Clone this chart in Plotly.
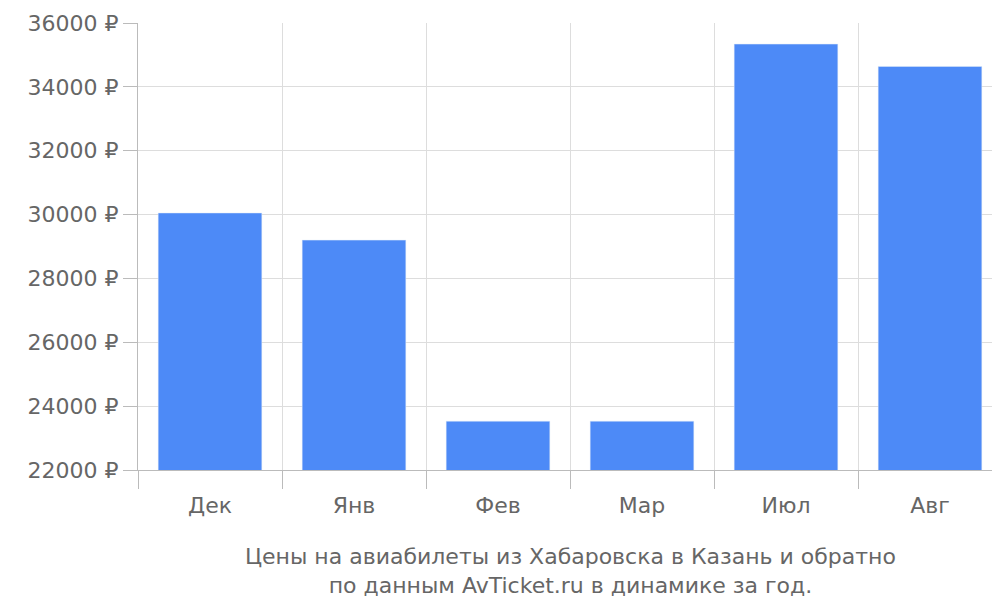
import plotly.graph_objects as go

months = ["Дек", "Янв", "Фев", "Мар", "Июл", "Авг"]
prices = [30050, 29200, 23530, 23530, 35340, 34640]
y_ticks = [22000, 24000, 26000, 28000, 30000, 32000, 34000, 36000]

pos = list(range(len(months)))
bounds = [p - 0.5 for p in pos] + [pos[-1] + 0.5]

fig = go.Figure()
fig.add_trace(go.Bar(x=pos, y=prices, marker_color="#4d8af7", width=0.72,
                     hoverinfo="y"))
# invisible trace to carry the boundary axis
fig.add_trace(go.Scatter(x=bounds, y=[None] * len(bounds), xaxis="x2",
                         mode="markers", showlegend=False, hoverinfo="skip"))

font = dict(family="DejaVu Sans", size=22, color="#666666")
fig.update_layout(
    width=1000, height=600, margin=dict(l=130, r=6, t=15, b=138),
    plot_bgcolor="white", paper_bgcolor="white", showlegend=False,
    font=font,
    xaxis=dict(range=[-0.5, 5.5], tickvals=pos, ticktext=months,
               showgrid=False, ticks="outside", ticklen=16,
               tickcolor="rgba(0,0,0,0)", tickfont=font, zeroline=False,
               automargin=False),
    xaxis2=dict(range=[-0.5, 5.5], overlaying="x", side="bottom",
                tickvals=bounds, ticktext=[""] * len(bounds), showgrid=True,
                gridcolor="#dddddd", ticks="outside", ticklen=18,
                tickcolor="#bbbbbb", showline=True, linecolor="#bbbbbb",
                zeroline=False, automargin=False),
    yaxis=dict(range=[22000, 36000], tickvals=y_ticks,
               ticktext=[f"{v} ₽" for v in y_ticks], showgrid=True,
               gridcolor="#dddddd", ticks="outside", ticklen=14,
               tickcolor="#bbbbbb", showline=True, linecolor="#bbbbbb",
               zeroline=False, tickfont=font, automargin=False),
    annotations=[dict(text="Цены на авиабилеты из Хабаровска в Казань и обратно<br>по данным AvTicket.ru в динамике за год.",
                      x=0.5, xref="paper", y=-0.16, yref="paper",
                      yanchor="top", showarrow=False, font=font)],
)
fig.write_html("out.html")
